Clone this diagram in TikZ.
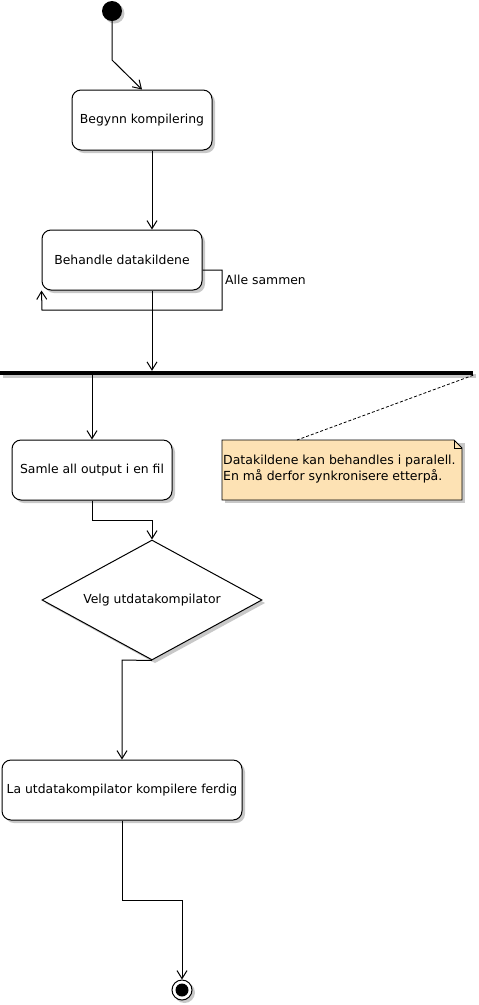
\documentclass[tikz,border=0pt]{standalone}
\usepackage{fontspec}
\setmainfont{DejaVu Sans}
\usetikzlibrary{arrows.meta,shapes.geometric,calc}
\definecolor{notefill}{RGB}{253,226,180}
\definecolor{shadowgray}{RGB}{200,200,200}
\tikzset{
  actbox/.style={draw=black, line width=1pt, rounded corners=9pt, fill=white, minimum height=60pt, inner sep=0pt, font=\fontsize{12.4}{14}\selectfont},
  decbox/.style={draw=black, line width=1pt, diamond, fill=white, minimum width=220pt, minimum height=120pt, inner sep=0pt, aspect=1.833, font=\fontsize{12.4}{14}\selectfont},
  conn/.style={draw=black, line width=1pt, -{Straight Barb[length=8pt,width=10pt,line width=1pt]}},
}
\begin{document}
\begin{tikzpicture}[x=1pt,y=-1pt]
\useasboundingbox (0,0) rectangle (479,1005);
% start
\fill[shadowgray] (114.5,13.5) circle (10);
\node[circle, fill=black, minimum size=20pt, inner sep=0pt] (start) at (112,11) {};
% shadows
\fill[shadowgray, rounded corners=9pt] (75,93) rectangle (215,153);
\fill[shadowgray, rounded corners=9pt] (45,233) rectangle (205,293);
\fill[shadowgray, rounded corners=9pt] (15,443) rectangle (175,503);
\fill[shadowgray] (155,544) -- (265,603) -- (155,663) -- (45,603) -- cycle;
\fill[shadowgray, rounded corners=9pt] (5,763) rectangle (245,823);
\fill[shadowgray] (3,374) rectangle (476,378);
\fill[shadowgray] (225,443) rectangle (465,503);
% nodes
\node[actbox, minimum width=140pt] (b1) at (142,120) {Begynn kompilering};
\node[actbox, minimum width=160pt] (b2) at (122,260) {Behandle datakildene};
\node[fill=black, minimum width=473pt, minimum height=4pt, inner sep=0pt] (bar) at (236.5,373) {};
\node[actbox, minimum width=160pt] (b3) at (92,470) {Samle all output i en fil};
\node[decbox] (dec) at (152,600) {Velg utdatakompilator};
\node[actbox, minimum width=240pt] (b4) at (122,790) {La utdatakompilator kompilere ferdig};
% note
\fill[notefill, draw=black, line width=0.8pt] (222,440) -- (454,440) -- (462,448) -- (462,500) -- (222,500) -- cycle;
\draw[line width=0.8pt] (454,440) -- (454,448) -- (462,448);
\node[anchor=west, align=left, inner sep=0pt, font=\fontsize{12.5}{16}\selectfont] (note) at (223,469) {Datakildene kan behandles i paralell.\\En må derfor synkronisere etterpå.};
\draw[line width=0.8pt, dash pattern=on 3pt off 2pt] (bar.south east) -- (297,440);
% end
\fill[shadowgray] (184.5,992.5) circle (10.5);
\node[circle, draw=black, line width=1pt, fill=white, minimum size=20pt, inner sep=0pt] (endo) at (182,990) {};
\node[circle, fill=black, minimum size=13pt, inner sep=0pt] (endi) at (endo.center) {};
% connectors
\draw[conn] (start.south) -- (112,60) -- (b1.north);
\draw[conn] ($(b1.south)+(10,0)$) -- ($(b2.north)+(30,0)$);
\draw[conn] ($(b2.east)+(0,10)$) -- (222,270) -- (222,310) -- (42,310) -- (b2.south west);
\node[anchor=west, inner sep=0pt, font=\fontsize{12.4}{14}\selectfont] (lbl) at (225,280) {Alle sammen};
\draw[conn] ($(b2.south)+(30,0)$) -- (bar.north -| 152,0);
\draw[conn] (bar.south -| 92,0) -- (b3.north);
\draw[conn] (b3.south) -- (92,520) -- (152,520) -- (dec.north);
\draw[conn] (dec.south) -- (122,660) -- (b4.north);
\draw[conn] (b4.south) -- (122,900) -- (182,900) -- (endo.north);
\end{tikzpicture}
\end{document}
